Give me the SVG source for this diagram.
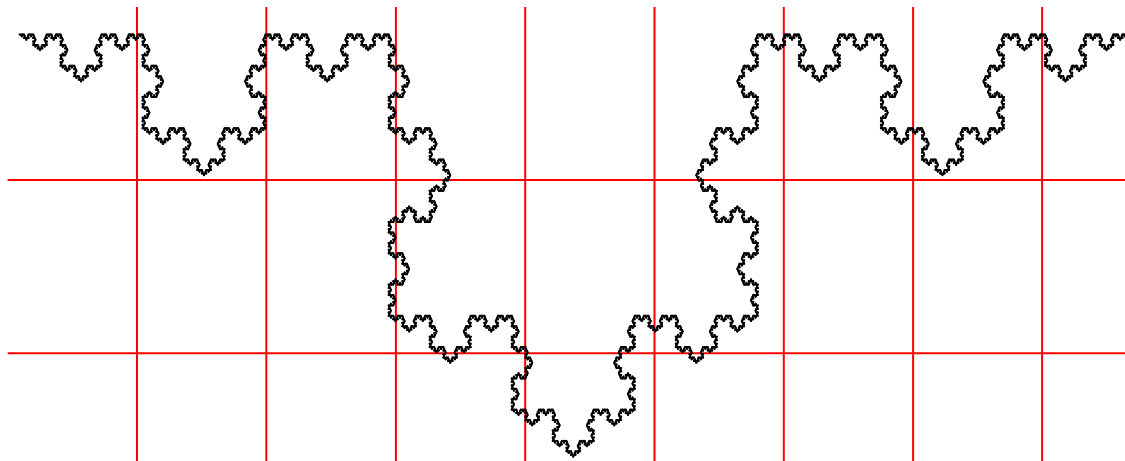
<svg xmlns="http://www.w3.org/2000/svg" xmlns:xlink="http://www.w3.org/1999/xlink" width="1125" height="461" viewBox="0 0 1125 461">
<style>
.seg{stroke:#000;stroke-width:2;stroke-linecap:round;vector-effect:non-scaling-stroke;fill:none}
.grid line{stroke:#ff0000;stroke-width:2}
</style>
<defs>
<line id="k0" class="seg" x1="0" y1="0" x2="1" y2="0"/>
<g id="k1">
<use href="#k0" transform="scale(0.33333333)"/>
<use href="#k0" transform="translate(0.33333333,0) rotate(60) scale(0.33333333)"/>
<use href="#k0" transform="translate(0.5,0.28867513) rotate(-60) scale(0.33333333)"/>
<use href="#k0" transform="translate(0.66666667,0) scale(0.33333333)"/>
</g>
<g id="k2">
<use href="#k1" transform="scale(0.33333333)"/>
<use href="#k1" transform="translate(0.33333333,0) rotate(60) scale(0.33333333)"/>
<use href="#k1" transform="translate(0.5,0.28867513) rotate(-60) scale(0.33333333)"/>
<use href="#k1" transform="translate(0.66666667,0) scale(0.33333333)"/>
</g>
<g id="k3">
<use href="#k2" transform="scale(0.33333333)"/>
<use href="#k2" transform="translate(0.33333333,0) rotate(60) scale(0.33333333)"/>
<use href="#k2" transform="translate(0.5,0.28867513) rotate(-60) scale(0.33333333)"/>
<use href="#k2" transform="translate(0.66666667,0) scale(0.33333333)"/>
</g>
<g id="k4">
<use href="#k3" transform="scale(0.33333333)"/>
<use href="#k3" transform="translate(0.33333333,0) rotate(60) scale(0.33333333)"/>
<use href="#k3" transform="translate(0.5,0.28867513) rotate(-60) scale(0.33333333)"/>
<use href="#k3" transform="translate(0.66666667,0) scale(0.33333333)"/>
</g>
<g id="k5">
<use href="#k4" transform="scale(0.33333333)"/>
<use href="#k4" transform="translate(0.33333333,0) rotate(60) scale(0.33333333)"/>
<use href="#k4" transform="translate(0.5,0.28867513) rotate(-60) scale(0.33333333)"/>
<use href="#k4" transform="translate(0.66666667,0) scale(0.33333333)"/>
</g>
<g id="k6">
<use href="#k5" transform="scale(0.33333333)"/>
<use href="#k5" transform="translate(0.33333333,0) rotate(60) scale(0.33333333)"/>
<use href="#k5" transform="translate(0.5,0.28867513) rotate(-60) scale(0.33333333)"/>
<use href="#k5" transform="translate(0.66666667,0) scale(0.33333333)"/>
</g>
</defs>
<rect width="1125" height="461" fill="#ffffff"/>
<g class="grid">
<line x1="137" y1="7" x2="137" y2="461"/>
<line x1="266.3" y1="7" x2="266.3" y2="461"/>
<line x1="395.9" y1="7" x2="395.9" y2="461"/>
<line x1="525.2" y1="7" x2="525.2" y2="461"/>
<line x1="654.5" y1="7" x2="654.5" y2="461"/>
<line x1="783.8" y1="7" x2="783.8" y2="461"/>
<line x1="913.1" y1="7" x2="913.1" y2="461"/>
<line x1="1042.1" y1="7" x2="1042.1" y2="461"/>
<line x1="7.7" y1="180" x2="1125" y2="180"/>
<line x1="7.7" y1="353.3" x2="1125" y2="353.3"/>
</g>
<g id="koch">
<use href="#k6" transform="translate(19.5,34.5) scale(1107.5,1462)"/>
</g>
</svg>
